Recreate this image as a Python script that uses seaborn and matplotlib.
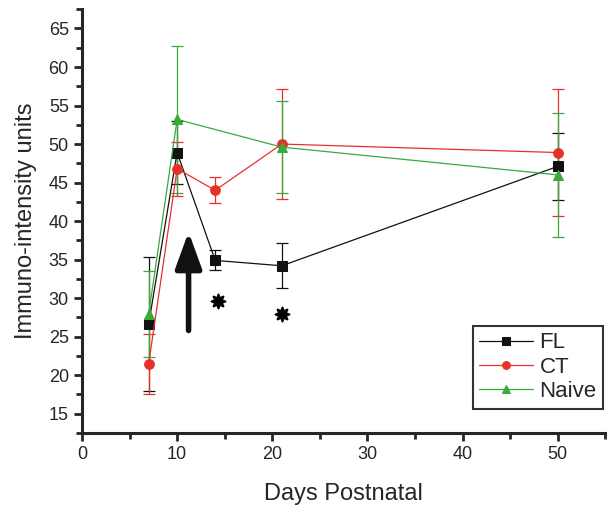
import numpy as np
import pandas as pd
import matplotlib
matplotlib.use("Agg")
import matplotlib.pyplot as plt
import seaborn as sns
from matplotlib.ticker import MultipleLocator

# ── Données ───────────────────────────────────────────────────────────────────
days = [7, 10, 14, 21, 50]

fl_mean = [26.6, 48.9, 34.9, 34.2, 47.1]
fl_err = [8.7, 4.1, 1.3, 2.9, 4.4]

ct_mean = [21.4, 46.8, 44.0, 50.0, 48.9]
ct_err = [3.9, 3.5, 1.7, 7.1, 8.2]

naive_mean = [27.9, 53.2, None, 49.6, 46.0]
naive_err = [5.6, 9.5, None, 6.0, 8.0]

# marqueurs de significativité (*) et flèche
star_x = [14.3, 21.0]
star_y = [29.6, 27.9]
arrow_x = 11.2
arrow_from = 25.8
arrow_to = 38.6

series = [
    ("FL", fl_mean, fl_err, "#111111", "s"),
    ("CT", ct_mean, ct_err, "#e8302a", "o"),
    ("Naive", naive_mean, naive_err, "#3aa93a", "^"),
]

sns.set_style("ticks")
plt.rcParams["font.family"] = ["Liberation Sans", "DejaVu Sans"]

fig = plt.figure(figsize=(6.12, 5.13), dpi=100)
ax = fig.add_axes([0.134, 0.156, 0.855, 0.826])

for name, mean, err, color, marker in series:
    df = pd.DataFrame({"day": days, "val": mean, "err": err}).dropna()
    ax.errorbar(df["day"], df["val"], yerr=df["err"], fmt="none",
                ecolor=color, elinewidth=0.9, capsize=4, capthick=0.9, zorder=2)
    sns.lineplot(x="day", y="val", data=df, ax=ax, color=color,
                 marker=marker, markersize=7, markeredgecolor=color,
                 linewidth=0.9, label=name, zorder=3)

ax.scatter(star_x, star_y, marker=(8, 1, 0), s=100, color="black",
           linewidths=1.5, zorder=4)

ax.annotate("", xy=(arrow_x, arrow_to), xytext=(arrow_x, arrow_from),
            arrowprops=dict(arrowstyle="-|>,head_width=0.8,head_length=2.2",
                            color="#111111", lw=4, shrinkA=0, shrinkB=0),
            zorder=4)

ax.set_xlim(0, 55)
ax.set_ylim(12.5, 67.5)
ax.xaxis.set_major_locator(MultipleLocator(10))
ax.xaxis.set_minor_locator(MultipleLocator(5))
ax.yaxis.set_major_locator(MultipleLocator(5))
ax.yaxis.set_minor_locator(MultipleLocator(2.5))
ax.tick_params(which="major", length=6, width=2, labelsize=13, direction="out")
ax.tick_params(which="minor", length=4, width=2, direction="out")

for side in ["top", "right"]:
    ax.spines[side].set_visible(False)
for side in ["left", "bottom"]:
    ax.spines[side].set_linewidth(2.2)

ax.set_xlabel("Days Postnatal", fontsize=17, labelpad=14)
ax.set_ylabel("Immuno-intensity units", fontsize=17, labelpad=8)

leg = ax.legend(loc="lower right", bbox_to_anchor=(0.996, 0.057),
                borderaxespad=0, fontsize=16, frameon=True, fancybox=False,
                handlelength=2.4, handletextpad=0.3, borderpad=0.3,
                labelspacing=0.15, markerscale=0.8)
leg.get_frame().set_edgecolor("black")
leg.get_frame().set_linewidth(1.5)

fig.savefig("out.png", dpi=100)
